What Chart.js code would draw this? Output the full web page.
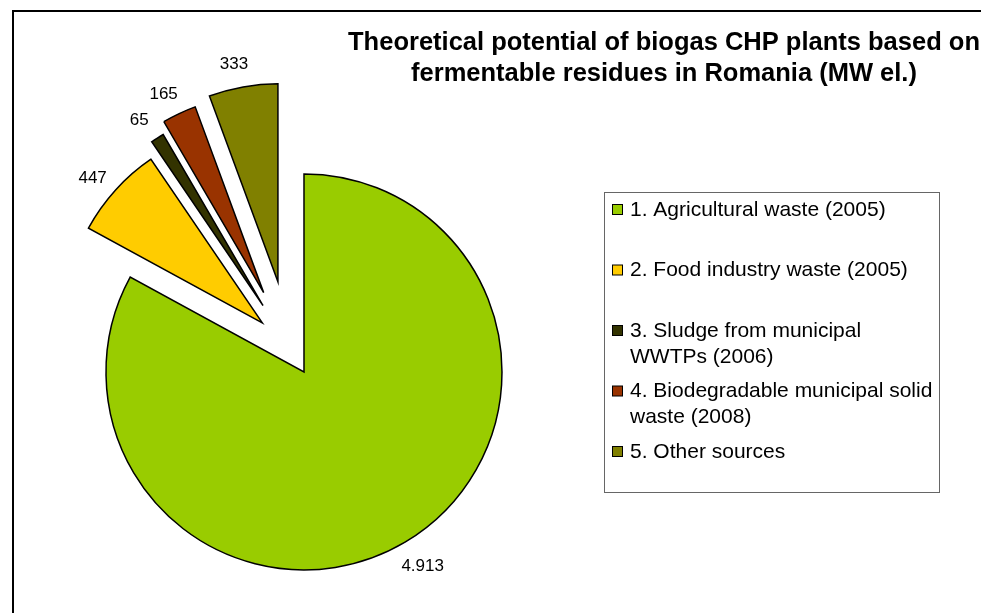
<!DOCTYPE html>
<html>
<head>
<meta charset="utf-8">
<title>Biogas CHP potential Romania</title>
<script src="https://cdn.jsdelivr.net/npm/chart.js@4.4.0/dist/chart.umd.min.js"></script>
<style>
  html, body { margin: 0; padding: 0; background: #fff; }
  #wrap { position: relative; width: 981px; height: 613px; }
</style>
</head>
<body>
<div id="wrap"><canvas id="biogasChart"></canvas></div>
<script>
// data
var categories = [
    ['1. Agricultural waste (2005)'],
    ['2. Food industry waste (2005)'],
    ['3. Sludge from municipal', 'WWTPs (2006)'],
    ['4. Biodegradable municipal solid', 'waste (2008)'],
    ['5. Other sources']
];
var potentialMW = [4913, 447, 65, 165, 333];
var sliceColors = ['#99CC00', '#FFCC00', '#333300', '#993300', '#808000'];
var explodePx = [28, 37, 50, 61, 67];
var titleLines = [
    'Theoretical potential of biogas CHP plants based on',
    'fermentable residues in Romania (MW el.)'
];

var PIE_RADIUS = 198;
var FONT = '"Liberation Sans", Arial, sans-serif';

// 1234 -> "1.234"
function fmtValue(v) {
    return String(v).replace(/\B(?=(\d{3})+(?!\d))/g, '.');
}

// move each slice out along its middle angle (exploded pie, same radius for all)
var explode = {
    id: 'explode',
    afterDatasetUpdate: function(chart, args) {
        args.meta.data.forEach(function(arc, i) {
            var mid = (arc.startAngle + arc.endAngle) / 2;
            arc.x += Math.cos(mid) * explodePx[i];
            arc.y += Math.sin(mid) * explodePx[i];
        });
    }
};

var frameAndText = {
    id: 'frameAndText',
    beforeDraw: function(chart) {
        var ctx = chart.ctx;
        ctx.save();
        ctx.fillStyle = '#fff';
        ctx.fillRect(0, 0, chart.width, chart.height);
        ctx.strokeStyle = '#000';
        ctx.lineWidth = 2;
        ctx.beginPath();
        ctx.moveTo(13, chart.height + 2);
        ctx.lineTo(13, 11);
        ctx.lineTo(chart.width + 2, 11);
        ctx.stroke();
        ctx.restore();
    },
    afterDatasetsDraw: function(chart) {
        var ctx = chart.ctx;
        var meta = chart.getDatasetMeta(0);
        ctx.save();
        ctx.fillStyle = '#000';
        ctx.font = '17px ' + FONT;
        ctx.textAlign = 'center';
        ctx.textBaseline = 'middle';
        // value labels just outside each slice
        meta.data.forEach(function(arc, i) {
            var a = (arc.startAngle + arc.endAngle) / 2 - 0.02;
            var d = arc.outerRadius + 27;
            ctx.fillText(fmtValue(potentialMW[i]), arc.x + Math.cos(a) * d, arc.y + Math.sin(a) * d + 3);
        });

        // title
        ctx.font = 'bold 25.5px ' + FONT;
        ctx.textBaseline = 'alphabetic';
        ctx.fillText(titleLines[0], 664, 50);
        ctx.fillText(titleLines[1], 664, 81);

        // legend
        ctx.strokeStyle = '#666';
        ctx.lineWidth = 1;
        ctx.strokeRect(604.5, 192.5, 335, 300);
        ctx.font = '21px ' + FONT;
        ctx.textAlign = 'left';
        ctx.textBaseline = 'middle';
        categories.forEach(function(lines, i) {
            var y = 210 + 60.5 * i;
            ctx.fillStyle = sliceColors[i];
            ctx.fillRect(612.5, y - 5.5, 10, 10);
            ctx.strokeStyle = '#000';
            ctx.strokeRect(612.5, y - 5.5, 10, 10);
            ctx.fillStyle = '#000';
            lines.forEach(function(line, j) {
                ctx.fillText(line, 630, y + j * 26);
            });
        });
        ctx.restore();
    }
};

var ctx = document.getElementById('biogasChart').getContext('2d');
var myChart = new Chart(ctx, {
    type: 'pie',
    data: {
        labels: categories,
        datasets: [{
            data: potentialMW,
            backgroundColor: sliceColors,
            borderColor: '#000',
            borderWidth: 1.5,
            borderJoinStyle: 'miter',
            hoverOffset: 0
        }]
    },
    options: {
        responsive: true,
        maintainAspectRatio: false,
        animation: false,
        events: [],
        radius: PIE_RADIUS,
        layout: {
            padding: { left: 0, right: 401.6, top: 82.6, bottom: 0 }
        },
        plugins: {
            legend: { display: false },
            title: { display: false },
            tooltip: { enabled: false }
        }
    },
    plugins: [explode, frameAndText]
});
</script>
</body>
</html>
